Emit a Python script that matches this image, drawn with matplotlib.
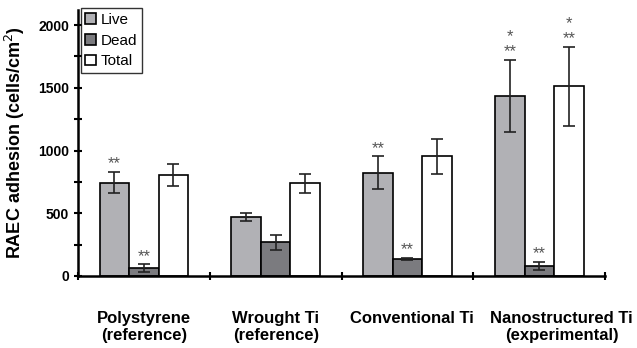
import matplotlib
matplotlib.use("Agg")
import matplotlib.pyplot as plt
import numpy as np

plt.rcParams['font.family'] = ['Liberation Sans', 'DejaVu Sans']

groups = ["Polystyrene\n(reference)", "Wrought Ti\n(reference)", "Conventional Ti", "Nanostructured Ti\n(experimental)"]
series = ["Live", "Dead", "Total"]
live = [744, 470, 823, 1435]
live_err = [85, 32, 130, 287]
dead = [61, 268, 135, 82]
dead_err = [32, 60, 8, 33]
total = [805, 739, 954, 1514]
total_err = [85, 75, 140, 315]
# significance marks: (group, series index, text lines from bottom up)
marks = [(0, 0, ["**"]), (0, 1, ["**"]), (2, 0, ["**"]), (2, 1, ["**"]),
         (3, 0, ["**", "*"]), (3, 1, ["**"]), (3, 2, ["**", "*"])]

colors = ["#b1b1b5", "#7b7b7f", "#ffffff"]

fig = plt.figure(figsize=(6.37, 3.48), dpi=100)
ax = fig.add_axes([0.1225, 0.207, 0.8275, 0.764])

x = np.arange(len(groups)) + 0.5
w = 0.224
vals = [live, dead, total]
errs = [live_err, dead_err, total_err]
for i in range(3):
    ax.bar(x + (i - 1) * w, vals[i], w, yerr=errs[i], color=colors[i], edgecolor="black",
           linewidth=1.2, label=series[i], capsize=4.5,
           error_kw=dict(elinewidth=1.2, capthick=1.2, ecolor="#222222"))

for g, s, lines in marks:
    xx = x[g] + (s - 1) * w
    top = vals[s][g] + errs[s][g]
    for k, t in enumerate(lines):
        ax.annotate(t, (xx, top), xytext=(0, 2.5 + k * 10.8), textcoords="offset points",
                    ha="center", va="baseline", fontsize=12, color="#555555")

ax.set_xlim(0, 4)
ax.set_ylim(0, 2120)
ax.set_yticks([0, 500, 1000, 1500, 2000])
ax.set_yticks([250, 750, 1250, 1750], minor=True)
ax.tick_params(axis="y", which="both", direction="inout", length=6, width=1.5, labelsize=10)
for lb in ax.get_yticklabels():
    lb.set_fontweight("bold")

ax.set_xticks([0, 1, 2, 3, 4])
ax.set_xticklabels([])
# label positions nudged to the right for the last groups, as in the original
ax.set_xticks([0.5, 1.5, 2.53, 3.67], minor=True)
ax.set_xticklabels(groups, minor=True, fontsize=12, fontweight="bold")
ax.tick_params(axis="x", which="major", direction="inout", length=6, width=1.5)
ax.tick_params(axis="x", which="minor", length=0, pad=25)

ax.spines["top"].set_visible(False)
ax.spines["right"].set_visible(False)
ax.spines["left"].set_linewidth(1.8)
ax.spines["bottom"].set_linewidth(1.8)

ax.set_ylabel("RAEC adhesion (cells/cm$^2$)", fontsize=13, fontweight="bold", labelpad=8)

leg = ax.legend(loc="upper left", bbox_to_anchor=(0.005, 1.0075), fontsize=11, frameon=True,
                fancybox=False, edgecolor="black", handlelength=0.7, handleheight=0.7,
                handletextpad=0.3, borderpad=0.3, labelspacing=0.45, borderaxespad=0)
leg.get_frame().set_linewidth(1.0)

fig.savefig("out.png", dpi=100)
